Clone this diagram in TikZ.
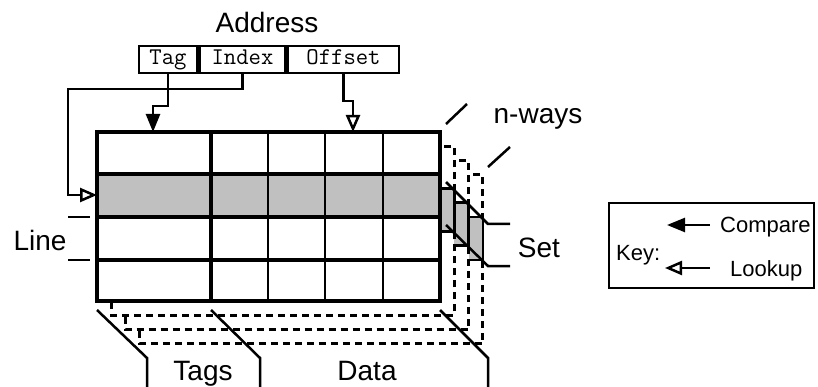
\documentclass[tikz,border=0pt]{standalone}
\usepackage{fontspec}
\setmainfont{Liberation Sans}
\usetikzlibrary{arrows.meta,calc,positioning}
\definecolor{band}{RGB}{192,192,192}

\begin{document}
\begin{tikzpicture}[x=1pt,y=-1pt,
    lbl/.style={font=\fontsize{28}{30}\selectfont, inner sep=0pt, anchor=base},
    keytxt/.style={font=\fontsize{22}{24}\selectfont, inner sep=0pt, anchor=base west},
    field/.style={draw, line width=2.5pt, minimum height=27pt, inner sep=0pt,
        text height=14pt, text depth=4pt, font=\ttfamily\fontsize{24}{26}\selectfont},
    cmp/.style={line width=2.5pt, -{Triangle[length=18pt,width=14pt]}},
    lkp/.style={line width=2.5pt, -{Triangle[open,length=17pt,width=14pt]}},
    way/.style={line width=3pt, dash pattern=on 7pt off 5pt, fill=white},
    thin/.style={line width=2.5pt},
    thick/.style={line width=4.5pt}]
\useasboundingbox (0,0) rectangle (818,387);

% address fields
\node[lbl] (address) at (267,33) {Address};
\node[field, minimum width=58pt] (tag) at (168,59.5) {Tag};
\node[field, minimum width=86pt, anchor=west] (index) at (tag.east) {Index};
\node[field, minimum width=111pt, anchor=west] (offset) at (index.east) {Offset};

% ways behind, back to front
\foreach \k in {3,2,1} {
  \begin{scope}[shift={(\k*14.3,\k*14.3)}]
    \draw[way] (97,132) rectangle (440,301);
    \draw[thin, fill=band] (97,174) rectangle (440,217);
  \end{scope}
}

% front way
\fill[white] (97,132) rectangle (440,301);
\fill[band] (97,174) rectangle (440,217);
\foreach \x in {268,325,383}
  \draw[thin] (\x,132) -- (\x,301);
\foreach \y in {174,217,260}
  \draw[thick] (97,\y) -- (440,\y);
\draw[thick] (211,132) -- (211,301);
\draw[thick] (97,132) rectangle (440,301);

\coordinate (tagin) at (153,132);
\coordinate (offin) at (353,132);
\coordinate (setin) at (97,195);

% address bits into the cache
\draw[cmp] (tag.south) -- ++(0,32) -| (tagin);
\draw[lkp] (index.south) -- ++(0,15) -| ($(setin)+(-29,0)$) -- (setin);
\draw[lkp] (offset.south) -- ++(0,27) -| (offin);

% n-ways
\draw[thin] (446,124) -- (467,104);
\draw[thin] (488,167) -- (510,147);
\node[lbl] (nways) at (538,124) {n-ways};

% set
\draw[thin] (446,182) -- (488,224) -- (510,224);
\draw[thin] (446,225) -- (488,266) -- (510,266);
\node[lbl] (set) at (539,257) {Set};

% line
\draw[thin] (68,217) -- (90,217);
\draw[thin] (68,260) -- (90,260);
\node[lbl] (line) at (40,250) {Line};

% tags and data
\draw[thin] (97,310) -- (147,358) -- (147,387);
\draw[thin] (211,310) -- (260,358) -- (260,387);
\draw[thin] (440,310) -- (488,358) -- (488,387);
\node[lbl] (tags) at (203,380) {Tags};
\node[lbl] (data) at (367,380) {Data};

% key
\node[draw, thin, minimum width=205pt, minimum height=85pt] (keybox) at (711.5,245.5) {};
\node[keytxt] (keylbl) at (616,260) {Key:};
\node[keytxt] (compare) at (720,233) {Compare};
\node[keytxt] (lookup) at (730,276) {Lookup};
\coordinate (cmptail) at (710,225);
\coordinate (cmptip) at (667,225);
\coordinate (lkptail) at (710,268);
\coordinate (lkptip) at (665,268);
\draw[cmp] (cmptail) -- (cmptip);
\draw[lkp] (lkptail) -- (lkptip);
\end{tikzpicture}
\end{document}
